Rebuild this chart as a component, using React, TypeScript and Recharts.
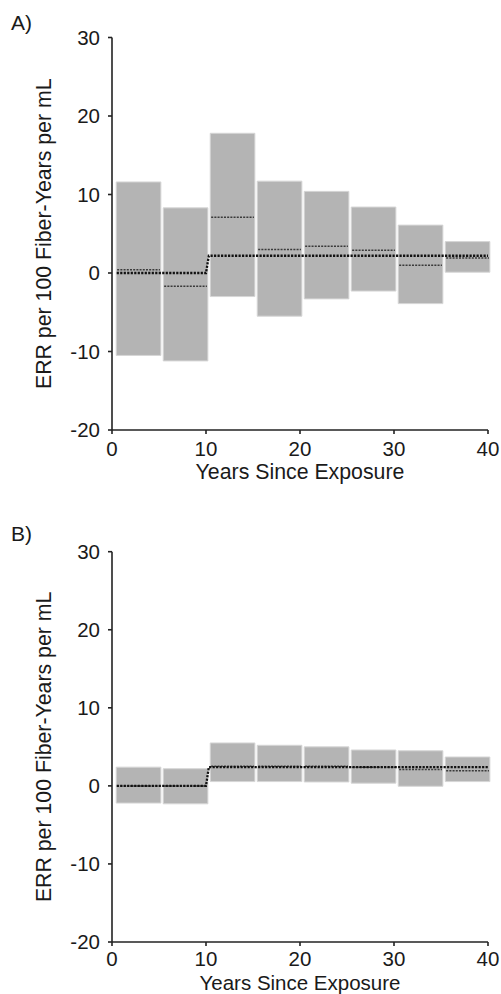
import React from 'react';
import { ComposedChart, XAxis, YAxis, Line, ReferenceArea, ReferenceLine } from 'recharts';

const binLeft = [0.45, 5.45, 10.45, 15.45, 20.45, 25.45, 30.45, 35.45];
const binRight = [5.2, 10.2, 15.2, 20.2, 25.2, 30.2, 35.2, 40.2];

// Panel A
const aUpper = [11.6, 8.3, 17.8, 11.7, 10.4, 8.4, 6.1, 4.0];
const aLower = [-10.5, -11.2, -3.0, -5.5, -3.3, -2.3, -3.9, 0.1];
const aBinEst = [0.4, -1.7, 7.1, 3.0, 3.4, 2.9, 1.0, 1.9];
const modelX = [0.5, 10, 10.3, 40];
const aModelY = [0, 0, 2.2, 2.2];

// Panel B
const bUpper = [2.4, 2.2, 5.5, 5.2, 5.0, 4.6, 4.5, 3.7];
const bLower = [-2.2, -2.3, 0.55, 0.55, 0.5, 0.35, -0.05, 0.55];
const bBinEst = [0, 0, 2.5, 2.5, 2.5, 2.4, 2.1, 1.95];
const bModelY = [0, 0, 2.4, 2.4];

const xTicks = [0, 10, 20, 30, 40];
const yTicks = [-20, -10, 0, 10, 20, 30];

const FONT = '"Liberation Sans", Arial, sans-serif';
const TXT = '#1a1a1a';
const AX = '#222';

type PanelProps = {
  upper: number[];
  lower: number[];
  est: number[];
  modelY: number[];
  top: number;
  bottom: number;
  titleGap: number;
  titleSize: number;
  xTickMargin: number;
};

function Panel({ upper, lower, est, modelY, top, bottom, titleGap, titleSize, xTickMargin }: PanelProps) {
  const model = modelX.map((x, i) => ({ x, y: modelY[i] }));
  const tickStyle = { fontFamily: FONT, fontSize: 20.5, fill: TXT };
  return (
    <ComposedChart
      width={501}
      height={497}
      margin={{ top, right: 13, bottom, left: 52 }}
      style={{ fontFamily: FONT }}
    >
      <XAxis
        type="number"
        dataKey="x"
        domain={[0, 40]}
        ticks={xTicks}
        allowDataOverflow
        height={50}
        tickSize={4}
        tickMargin={xTickMargin}
        tick={tickStyle}
        axisLine={{ stroke: AX, strokeWidth: 1.6 }}
        tickLine={{ stroke: AX, strokeWidth: 1.6 }}
        label={{
          content: (p: any) => {
            const vb = p.viewBox;
            return (
              <text
                x={vb.x + vb.width / 2}
                y={vb.y + titleGap}
                textAnchor="middle"
                fontFamily={FONT}
                fontSize={titleSize}
                fill={TXT}
              >
                Years Since Exposure
              </text>
            );
          },
        }}
      />
      <YAxis
        type="number"
        domain={[-20, 30]}
        ticks={yTicks}
        allowDataOverflow
        width={60}
        tickSize={4}
        tickMargin={8}
        tick={tickStyle}
        axisLine={{ stroke: AX, strokeWidth: 1.6 }}
        tickLine={{ stroke: AX, strokeWidth: 1.6 }}
        label={{
          content: (p: any) => {
            const vb = p.viewBox;
            const cy = vb.y + vb.height / 2;
            return (
              <text
                x={51}
                y={cy}
                textAnchor="middle"
                transform={`rotate(-90, 51, ${cy})`}
                fontFamily={FONT}
                fontSize={21.3}
                fill={TXT}
              >
                ERR per 100 Fiber-Years per mL
              </text>
            );
          },
        }}
      />
      {binLeft.map((x1, i) => (
        <ReferenceArea
          key={'box' + i}
          x1={x1}
          x2={binRight[i]}
          y1={lower[i]}
          y2={upper[i]}
          fill="#b4b4b4"
          fillOpacity={1}
          stroke="#d6d6d6"
          strokeWidth={1}
          ifOverflow="visible"
        />
      ))}
      {binLeft.map((x1, i) => (
        <ReferenceLine
          key={'est' + i}
          segment={[
            { x: x1 + 0.1, y: est[i] },
            { x: binRight[i] - 0.1, y: est[i] },
          ]}
          stroke="#3a3a3a"
          strokeWidth={1.5}
          strokeDasharray="2 1.2"
          ifOverflow="visible"
        />
      ))}
      <Line
        data={model}
        dataKey="y"
        type="linear"
        stroke="#111"
        strokeWidth={2.3}
        strokeDasharray="2.2 1.3"
        dot={false}
        activeDot={false}
        isAnimationActive={false}
      />
    </ComposedChart>
  );
}

export default function App() {
  return (
    <div style={{ position: 'absolute', left: 0, top: 0, width: 501, height: 994, background: '#fff' }}>
      <div style={{ position: 'absolute', left: 0, top: 0 }}>
        <Panel upper={aUpper} lower={aLower} est={aBinEst} modelY={aModelY} top={37.5} bottom={17}
          titleGap={49} titleSize={21.3} xTickMargin={7} />
      </div>
      <div style={{ position: 'absolute', left: 0, top: 497 }}>
        <Panel upper={bUpper} lower={bLower} est={bBinEst} modelY={bModelY} top={54.7} bottom={2}
          titleGap={47.5} titleSize={20.5} xTickMargin={5} />
      </div>
      <svg width={501} height={994} style={{ position: 'absolute', left: 0, top: 0, pointerEvents: 'none' }}>
        <text x={11} y={30} fontFamily={FONT} fontSize={21} fill={TXT}>A)</text>
        <text x={11} y={541} fontFamily={FONT} fontSize={21} fill={TXT}>B)</text>
      </svg>
    </div>
  );
}
